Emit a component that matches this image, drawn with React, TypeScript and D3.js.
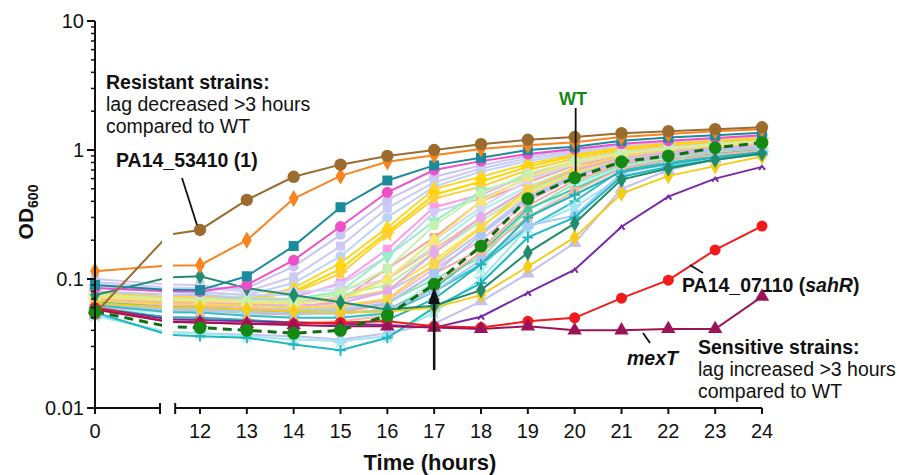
import React from "react";
import * as d3 from "d3";

// sampling times (hours)
const times = [0, 12, 13, 14, 15, 16, 17, 18, 19, 20, 21, 22, 23, 24];
const xTicks = [0, 12, 13, 14, 15, 16, 17, 18, 19, 20, 21, 22, 23, 24];
const yMajor = [0.01, 0.1, 1, 10];
const yMajorLabels = ["0.01", "0.1", "1", "10"];

// highlighted strains (OD600)
const wt = [0.056, 0.042, 0.04, 0.038, 0.04, 0.052, 0.091, 0.18, 0.42, 0.61, 0.81, 0.9, 1.04, 1.14];
const pa53410 = [0.054, 0.24, 0.41, 0.62, 0.77, 0.9, 1.0, 1.11, 1.2, 1.26, 1.35, 1.4, 1.45, 1.5];
const orangeR = [0.115, 0.128, 0.2, 0.42, 0.63, 0.81, 0.91, 1.02, 1.09, 1.15, 1.26, 1.33, 1.4, 1.45];
const tealSq = [0.09, 0.082, 0.105, 0.18, 0.36, 0.58, 0.76, 0.87, 1.0, 1.06, 1.18, 1.25, 1.3, 1.36];
const pinkC = [0.085, 0.08, 0.09, 0.14, 0.255, 0.47, 0.7, 0.82, 0.93, 1.02, 1.12, 1.18, 1.24, 1.3];
const darkTeal = [0.075, 0.105, 0.085, 0.075, 0.066, 0.058, 0.062, 0.082, 0.16, 0.27, 0.59, 0.72, 0.84, 0.94];
const sahR = [0.06, 0.046, 0.045, 0.045, 0.046, 0.047, 0.043, 0.042, 0.047, 0.05, 0.071, 0.098, 0.168, 0.257];
const mexT = [0.058, 0.046, 0.045, 0.044, 0.043, 0.043, 0.042, 0.041, 0.043, 0.04, 0.04, 0.041, 0.041, 0.073];
const purple = [0.06, 0.048, 0.047, 0.046, 0.045, 0.044, 0.042, 0.051, 0.078, 0.118, 0.254, 0.435, 0.6, 0.74];
const yellowLate = [0.065, 0.06, 0.058, 0.056, 0.055, 0.056, 0.06, 0.075, 0.125, 0.21, 0.46, 0.63, 0.75, 0.89];
const cyanLow = [0.055, 0.036, 0.035, 0.031, 0.028, 0.035, 0.06, 0.093, 0.21, 0.3, 0.62, 0.74, 0.84, 0.93];
const cyanB = [0.06, 0.05, 0.048, 0.046, 0.045, 0.048, 0.07, 0.13, 0.3, 0.45, 0.68, 0.78, 0.88, 0.96];
const lavLate = [0.052, 0.038, 0.037, 0.036, 0.034, 0.038, 0.045, 0.067, 0.11, 0.19, 0.5, 0.7, 0.85, 0.95];
const cyanStar = [0.052, 0.038, 0.036, 0.034, 0.033, 0.036, 0.055, 0.1, 0.25, 0.36, 0.62, 0.75, 0.86, 0.94];
const blueLate = [0.065, 0.058, 0.056, 0.054, 0.054, 0.058, 0.08, 0.14, 0.26, 0.31, 0.66, 0.78, 0.88, 0.96];

// the rest of the library
const lavA = [0.095, 0.085, 0.085, 0.125, 0.22, 0.41, 0.62, 0.76, 0.9, 1.0, 1.1, 1.16, 1.22, 1.27];
const lavB = [0.1, 0.09, 0.08, 0.104, 0.18, 0.355, 0.56, 0.72, 0.86, 0.97, 1.07, 1.14, 1.2, 1.25];
const blueA = [0.09, 0.078, 0.075, 0.093, 0.15, 0.3, 0.52, 0.68, 0.82, 0.94, 1.04, 1.12, 1.18, 1.22];
const yelA = [0.075, 0.072, 0.07, 0.085, 0.133, 0.25, 0.5, 0.62, 0.78, 0.92, 1.04, 1.12, 1.18, 1.24];
const yelB = [0.07, 0.068, 0.068, 0.08, 0.12, 0.23, 0.45, 0.57, 0.74, 0.9, 1.02, 1.1, 1.16, 1.2];
const yelC = [0.078, 0.072, 0.07, 0.078, 0.11, 0.22, 0.42, 0.52, 0.7, 0.86, 0.99, 1.08, 1.14, 1.19];
const pinkSq = [0.065, 0.062, 0.062, 0.072, 0.093, 0.17, 0.36, 0.45, 0.64, 0.82, 0.96, 1.05, 1.12, 1.17];
const lavC = [0.085, 0.08, 0.075, 0.075, 0.09, 0.15, 0.33, 0.42, 0.6, 0.8, 0.94, 1.03, 1.1, 1.15];
const mintA = [0.072, 0.07, 0.068, 0.07, 0.08, 0.15, 0.28, 0.48, 0.62, 0.8, 0.93, 1.02, 1.09, 1.14];
const salA = [0.062, 0.058, 0.056, 0.058, 0.069, 0.12, 0.21, 0.4, 0.56, 0.76, 0.9, 0.99, 1.06, 1.1];
const cyanA = [0.068, 0.064, 0.062, 0.064, 0.07, 0.1, 0.18, 0.34, 0.52, 0.72, 0.88, 0.97, 1.04, 1.1];
const peachA = [0.07, 0.066, 0.065, 0.066, 0.072, 0.1, 0.17, 0.3, 0.5, 0.7, 0.86, 0.95, 1.03, 1.08];
const greenA = [0.08, 0.075, 0.072, 0.07, 0.075, 0.09, 0.16, 0.28, 0.48, 0.68, 0.85, 0.95, 1.02, 1.07];
const yelD = [0.074, 0.07, 0.068, 0.066, 0.07, 0.082, 0.14, 0.255, 0.46, 0.66, 0.84, 0.94, 1.01, 1.07];
const lavD = [0.08, 0.075, 0.07, 0.068, 0.069, 0.08, 0.125, 0.23, 0.44, 0.64, 0.82, 0.92, 1.0, 1.06];
const pinkB = [0.066, 0.062, 0.06, 0.058, 0.06, 0.068, 0.12, 0.2, 0.4, 0.62, 0.8, 0.9, 0.98, 1.04];
const salB = [0.06, 0.056, 0.054, 0.053, 0.055, 0.064, 0.11, 0.17, 0.37, 0.58, 0.78, 0.88, 0.96, 1.02];
const mintB = [0.064, 0.06, 0.058, 0.057, 0.058, 0.065, 0.1, 0.145, 0.34, 0.55, 0.76, 0.87, 0.95, 1.0];
const cyanC = [0.058, 0.055, 0.053, 0.05, 0.05, 0.056, 0.095, 0.12, 0.3, 0.52, 0.74, 0.86, 0.94, 1.0];
const violetA = [0.07, 0.065, 0.063, 0.062, 0.065, 0.08, 0.16, 0.3, 0.5, 0.7, 0.86, 0.96, 1.03, 1.08];
const blueB = [0.062, 0.058, 0.056, 0.055, 0.057, 0.065, 0.11, 0.22, 0.42, 0.63, 0.82, 0.92, 1.0, 1.05];
const yelE = [0.068, 0.064, 0.062, 0.06, 0.062, 0.07, 0.13, 0.25, 0.5, 0.72, 0.9, 1.0, 1.08, 1.13];
const lavE = [0.09, 0.085, 0.08, 0.08, 0.082, 0.1, 0.2, 0.36, 0.58, 0.78, 0.93, 1.02, 1.1, 1.15];
const tealG = [0.066, 0.06, 0.058, 0.055, 0.054, 0.058, 0.085, 0.16, 0.35, 0.5, 0.72, 0.84, 0.93, 1.0];
const cyanD = [0.063, 0.055, 0.052, 0.05, 0.05, 0.054, 0.08, 0.13, 0.25, 0.4, 0.7, 0.8, 0.9, 0.98];
const salC = [0.058, 0.05, 0.048, 0.046, 0.047, 0.052, 0.09, 0.16, 0.3, 0.48, 0.72, 0.84, 0.92, 0.99];
const yelF = [0.072, 0.068, 0.066, 0.065, 0.068, 0.1, 0.2, 0.4, 0.62, 0.8, 0.94, 1.03, 1.1, 1.16];
const greenB = [0.076, 0.07, 0.068, 0.067, 0.078, 0.12, 0.26, 0.46, 0.66, 0.82, 0.96, 1.04, 1.12, 1.17];

type Shape = "circle" | "square" | "triangle" | "tdown" | "diamond" | "star" | "plus" | "tick";
type S = { v: number[]; c: string; m: Shape; size?: number; w?: number; dash?: string; mc?: string };

const series: S[] = [
  { v: lavA, c: "#c9c4f3", m: "circle" },
  { v: lavB, c: "#cdc9f5", m: "square" },
  { v: blueA, c: "#bcd3fa", m: "circle" },
  { v: yelA, c: "#ffd424", m: "triangle" },
  { v: yelB, c: "#ffd500", m: "square" },
  { v: yelC, c: "#ffcf3a", m: "star" },
  { v: pinkSq, c: "#ff9be8", m: "square" },
  { v: lavC, c: "#d0ccf6", m: "tdown" },
  { v: mintA, c: "#98eec6", m: "tdown" },
  { v: salA, c: "#f5a3a3", m: "square" },
  { v: cyanA, c: "#aaeeee", m: "diamond" },
  { v: peachA, c: "#ffbf8c", m: "circle" },
  { v: greenA, c: "#b4f0a4", m: "triangle" },
  { v: yelD, c: "#ffe24a", m: "diamond" },
  { v: lavD, c: "#c6c2f2", m: "square" },
  { v: pinkB, c: "#f9b3da", m: "circle" },
  { v: salB, c: "#f2aaa2", m: "square" },
  { v: mintB, c: "#8fe6b6", m: "triangle" },
  { v: cyanC, c: "#b2f0f4", m: "star" },
  { v: violetA, c: "#e8a8f0", m: "diamond" },
  { v: blueB, c: "#a8c8f4", m: "circle" },
  { v: yelE, c: "#f8d848", m: "square" },
  { v: lavE, c: "#d8d4f8", m: "circle" },
  { v: tealG, c: "#48c8a0", m: "triangle", size: 45 },
  { v: cyanD, c: "#38c0c8", m: "plus" },
  { v: salC, c: "#f8b4a0", m: "square" },
  { v: yelF, c: "#f6ea6a", m: "triangle" },
  { v: greenB, c: "#c8f0b0", m: "circle" },
  { v: lavLate, c: "#c4c0f0", m: "triangle" },
  { v: cyanStar, c: "#a0e8f0", m: "star" },
  { v: blueLate, c: "#a8c8f8", m: "circle" },
  { v: cyanB, c: "#24b4b4", m: "plus" },
  { v: cyanLow, c: "#20b8c0", m: "plus" },
  { v: yellowLate, c: "#f5cc1a", m: "diamond" },
  { v: darkTeal, c: "#1f8c6e", m: "diamond" },
  { v: pinkC, c: "#ee4fc8", m: "circle", size: 95 },
  { v: tealSq, c: "#1b8a9c", m: "square", size: 100 },
  { v: orangeR, c: "#f7841e", m: "diamond", size: 85 },
  { v: pa53410, c: "#9c6b2e", m: "circle", size: 120 },
  { v: purple, c: "#7a28a8", m: "tick" },
  { v: sahR, c: "#f21a1a", m: "circle", size: 95 },
  { v: mexT, c: "#9c1458", m: "triangle", size: 90 },
  { v: wt, c: "#0e6e10", m: "circle", w: 3, dash: "9,6", size: 130, mc: "#148a14" },
];

const W = 899;
const H = 475;
const yScale = d3.scaleLog().domain([0.01, 10]).range([408, 21]);
const xLeft = d3.scaleLinear().domain([0, 10]).range([95, 160]);
const xRight = d3.scaleLinear().domain([12, 24]).range([200, 762]);
const segStart = 11.47;
const gapL = 162;
const gapR = 173;
const xAt = (t: number) => (t < 11 ? xLeft(t) : xRight(t));

const font = "'Liberation Sans', Arial, Helvetica, sans-serif";

function markerPath(m: Shape, size: number): string {
  if (m === "plus") {
    const s = Math.sqrt(size) * 0.6;
    return `M${-s},0H${s}M0,${-s}V${s}`;
  }
  if (m === "tick") return "M-3,3L0,-1L3,3";
  const type =
    m === "circle" ? d3.symbolCircle :
    m === "square" ? d3.symbolSquare :
    m === "diamond" ? d3.symbolDiamond :
    m === "star" ? d3.symbolStar :
    d3.symbolTriangle;
  return d3.symbol().type(type).size(size)() || "";
}

export default function App() {
  const pts = (v: number[]) => v.map((d, i) => [times[i], d] as [number, number]);
  const lineL = d3.line<[number, number]>().x((d) => xLeft(d[0])).y((d) => yScale(d[1]));
  const lineR = d3.line<[number, number]>().x((d) => xRight(d[0])).y((d) => yScale(d[1]));
  const minor: number[] = [];
  [0.01, 0.1, 1].forEach((dec) => {
    for (let k = 2; k <= 9; k++) minor.push(dec * k);
  });
  const axisY = yScale(0.01);
  const x17 = xRight(17);
  const x20 = xRight(20);

  return (
    <svg width={W} height={H} style={{ position: "absolute", left: 0, top: 0, background: "#fff" }} fontFamily={font}>
      <defs>
        <clipPath id="clipL"><rect x={95} y={0} width={gapL - 95} height={H} /></clipPath>
        <clipPath id="clipR"><rect x={gapR} y={0} width={W - gapR} height={H} /></clipPath>
      </defs>

      {series.map((s, i) => {
        const p = pts(s.v);
        const sw = s.w ?? 2;
        const size = s.size ?? 80;
        const mc = s.mc ?? s.c;
        const stroked = s.m === "plus" || s.m === "tick";
        return (
          <g key={i}>
            <path d={lineL(p) || ""} clipPath="url(#clipL)" fill="none" stroke={s.c} strokeWidth={sw} strokeDasharray={s.dash} />
            <path d={lineR(p) || ""} clipPath="url(#clipR)" fill="none" stroke={s.c} strokeWidth={sw} strokeDasharray={s.dash} />
            {p.map(([t, v], j) => (
              <path
                key={j}
                d={markerPath(s.m, size)}
                transform={`translate(${xAt(t)},${yScale(v)})${s.m === "tdown" ? " rotate(180)" : ""}`}
                fill={stroked ? "none" : mc}
                stroke={stroked ? mc : "none"}
                strokeWidth={stroked ? 2 : 0}
              />
            ))}
          </g>
        );
      })}

      {/* axes */}
      <g stroke="#111" strokeWidth={2} fill="none">
        <line x1={95} x2={95} y1={yScale(10)} y2={axisY} />
        {yMajor.map((d) => (
          <line key={d} x1={87} x2={95} y1={yScale(d)} y2={yScale(d)} />
        ))}
        {minor.map((d) => (
          <line key={d} x1={91} x2={95} y1={yScale(d)} y2={yScale(d)} strokeWidth={1.5} />
        ))}
        <line x1={xLeft(0) - 1} x2={xLeft(10)} y1={axisY} y2={axisY} />
        <line x1={xRight(segStart)} x2={xRight(24)} y1={axisY} y2={axisY} />
        <line x1={xLeft(10)} x2={xLeft(10)} y1={axisY - 5} y2={axisY + 6} />
        <line x1={xRight(segStart)} x2={xRight(segStart)} y1={axisY - 5} y2={axisY + 6} />
        {xTicks.map((t) => (
          <line key={t} x1={xAt(t)} x2={xAt(t)} y1={axisY} y2={axisY + 6} />
        ))}
      </g>
      <g fontSize={20} fill="#111">
        {yMajor.map((d, i) => (
          <text key={d} x={84} y={yScale(d)} dy="0.35em" textAnchor="end">{yMajorLabels[i]}</text>
        ))}
        {xTicks.map((t) => (
          <text key={t} x={xAt(t)} y={438} textAnchor="middle">{t}</text>
        ))}
      </g>
      <text x={430} y={470} textAnchor="middle" fontSize={22} fontWeight="bold" fill="#111">Time (hours)</text>
      <text transform="translate(33,212) rotate(-90)" textAnchor="middle" fontSize={21} fontWeight="bold" fill="#111">
        OD<tspan fontSize={14} dy={5}>600</tspan>
      </text>

      {/* annotations */}
      <g fontSize={19.5} fill="#111">
        <text x={106} y={89} fontWeight="bold">Resistant strains:</text>
        <text x={106} y={111}>lag decreased &gt;3 hours</text>
        <text x={106} y={133}>compared to WT</text>
        <text x={116} y={167} fontWeight="bold">PA14_53410 (1)</text>
        <text x={573} y={105} textAnchor="middle" fontWeight="bold" fontSize={18} fill="#148a14">WT</text>
        <text x={682} y={292} fontWeight="bold">PA14_07110 (<tspan fontStyle="italic">sahR</tspan>)</text>
        <text x={627} y={365} fontWeight="bold" fontStyle="italic">mexT</text>
        <text x={698} y={354} fontWeight="bold">Sensitive strains:</text>
        <text x={698} y={376}>lag increased &gt;3 hours</text>
        <text x={698} y={398}>compared to WT</text>
      </g>
      <g stroke="#111" strokeWidth={1.8}>
        <line x1={182} y1={178} x2={xRight(12) - 3} y2={yScale(pa53410[1]) - 5} />
        <line x1={x20 + 1} y1={108} x2={x20 + 1} y2={yScale(wt[9]) - 6} />
        <line x1={690} y1={265} x2={703} y2={273} />
        <line x1={643} y1={333} x2={650} y2={343} />
        <line x1={x17} y1={370} x2={x17} y2={300} strokeWidth={2.5} />
      </g>
      <path d={`M${x17},${287}L${x17 - 6},${304}L${x17 + 6},${304}Z`} fill="#111" />
    </svg>
  );
}
